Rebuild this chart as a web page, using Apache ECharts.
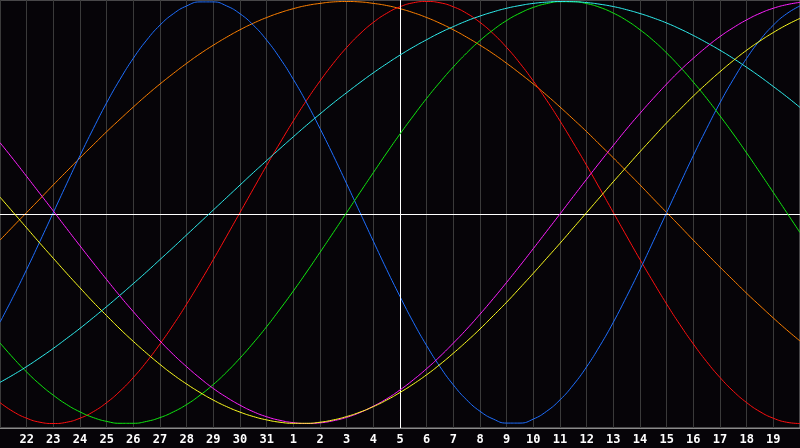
<!DOCTYPE html>
<html>
<head>
<meta charset="utf-8">
<script src="https://cdn.jsdelivr.net/npm/echarts@6/dist/echarts.min.js"></script>
<style>
html,body{margin:0;padding:0;background:#060408;}
#c{width:800px;height:448px;}
</style>
</head>
<body>
<div id="c"></div>
<script>
// Day labels (index 0 and 30 are the unlabeled edges); values sampled every half day
const days = ['21','22','23','24','25','26','27','28','29','30','31','1','2','3','4','5','6','7','8','9','10','11','12','13','14','15','16','17','18','19','20'];
const todayLabel = '5';

const blueVals = [-0.520,-0.398,-0.270,-0.136,0,0.136,0.270,0.398,0.520,0.631,0.731,0.817,0.888,0.942,0.979,0.998,0.998,0.979,0.942,0.888,0.817,0.731,0.631,0.520,0.398,0.270,0.136,0,-0.136,-0.270,-0.398,-0.520,-0.631,-0.731,-0.817,-0.888,-0.942,-0.979,-0.998,-0.998,-0.979,-0.942,-0.888,-0.817,-0.731,-0.631,-0.520,-0.398,-0.270,-0.136,0,0.136,0.270,0.398,0.520,0.631,0.731,0.817,0.888,0.942,0.979];
const orangeVals = [-0.131,-0.065,0,0.065,0.131,0.195,0.259,0.321,0.383,0.442,0.500,0.556,0.609,0.659,0.707,0.752,0.793,0.831,0.866,0.897,0.924,0.947,0.966,0.981,0.991,0.998,1.000,0.998,0.991,0.981,0.966,0.947,0.924,0.897,0.866,0.831,0.793,0.752,0.707,0.659,0.609,0.556,0.500,0.442,0.383,0.321,0.259,0.195,0.131,0.065,0,-0.065,-0.131,-0.195,-0.259,-0.321,-0.383,-0.442,-0.500,-0.556,-0.609];
const redVals = [-0.901,-0.944,-0.975,-0.994,-1,-0.994,-0.975,-0.944,-0.901,-0.847,-0.782,-0.707,-0.623,-0.532,-0.434,-0.330,-0.223,-0.112,0,0.112,0.223,0.330,0.434,0.532,0.623,0.707,0.782,0.847,0.901,0.944,0.975,0.994,1,0.994,0.975,0.944,0.901,0.847,0.782,0.707,0.623,0.532,0.434,0.330,0.223,0.112,0,-0.112,-0.223,-0.330,-0.434,-0.532,-0.623,-0.707,-0.782,-0.847,-0.901,-0.944,-0.975,-0.994,-1];
const cyanVals = [-0.805,-0.769,-0.730,-0.688,-0.644,-0.597,-0.549,-0.498,-0.446,-0.392,-0.337,-0.281,-0.223,-0.165,-0.106,-0.047,0.012,0.071,0.130,0.189,0.246,0.303,0.359,0.414,0.467,0.519,0.568,0.616,0.662,0.705,0.746,0.784,0.819,0.852,0.881,0.908,0.931,0.951,0.968,0.981,0.991,0.997,1.000,0.999,0.995,0.987,0.976,0.961,0.943,0.922,0.898,0.870,0.839,0.805,0.769,0.730,0.688,0.644,0.597,0.549,0.498];
const greenVals = [-0.618,-0.690,-0.756,-0.815,-0.866,-0.910,-0.945,-0.972,-0.990,-0.999,-0.999,-0.990,-0.972,-0.945,-0.910,-0.866,-0.815,-0.756,-0.690,-0.618,-0.541,-0.458,-0.372,-0.282,-0.189,-0.095,0,0.095,0.189,0.282,0.372,0.458,0.541,0.618,0.690,0.756,0.815,0.866,0.910,0.945,0.972,0.990,0.999,0.999,0.990,0.972,0.945,0.910,0.866,0.815,0.756,0.690,0.618,0.541,0.458,0.372,0.282,0.189,0.095,0,-0.095];
const magentaVals = [0.331,0.252,0.171,0.089,0.007,-0.076,-0.158,-0.239,-0.318,-0.396,-0.470,-0.541,-0.609,-0.673,-0.731,-0.785,-0.834,-0.876,-0.913,-0.944,-0.968,-0.985,-0.996,-1.000,-0.997,-0.987,-0.971,-0.948,-0.918,-0.883,-0.841,-0.793,-0.740,-0.682,-0.619,-0.553,-0.482,-0.408,-0.331,-0.252,-0.171,-0.089,-0.007,0.076,0.158,0.239,0.318,0.396,0.470,0.541,0.609,0.673,0.731,0.785,0.834,0.876,0.913,0.944,0.968,0.985,0.996];
const yellowVals = [0.073,0.000,-0.073,-0.146,-0.217,-0.288,-0.357,-0.425,-0.489,-0.552,-0.611,-0.667,-0.720,-0.769,-0.813,-0.853,-0.889,-0.920,-0.946,-0.967,-0.983,-0.994,-0.999,-0.999,-0.994,-0.983,-0.967,-0.946,-0.920,-0.889,-0.853,-0.813,-0.769,-0.720,-0.667,-0.611,-0.552,-0.489,-0.425,-0.357,-0.288,-0.217,-0.146,-0.073,0,0.073,0.146,0.217,0.288,0.357,0.425,0.489,0.552,0.611,0.667,0.720,0.769,0.813,0.853,0.889,0.920];

// Half-day category slots built from the day labels
const cats = [];
days.forEach((d, i) => { cats.push(d); if (i < days.length - 1) cats.push(d + '.5'); });

const chart = echarts.init(document.getElementById('c'), null, {renderer:'canvas'});

function line(name, data, color, z){
  return {
    name, type:'line', data, smooth:true, symbol:'none', z,
    lineStyle:{color, width:1}, silent:true, animation:false
  };
}

const option = {
  backgroundColor:'#060408',
  animation:false,
  grid:{left:0, right:0, top:0, bottom:20, show:true, borderColor:'#8a8a8a', borderWidth:1, backgroundColor:'transparent'},
  xAxis:{
    type:'category', data:cats, boundaryGap:false,
    axisLine:{show:true, onZero:false, lineStyle:{color:'#8a8a8a', width:1}},
    axisTick:{show:false},
    splitLine:{show:true, interval:1, lineStyle:{color:'#3a3a3a', width:1}},
    axisLabel:{
      color:'#ffffff', fontWeight:'bold', fontSize:12, fontFamily:'DejaVu Sans Mono', margin:6,
      showMinLabel:false, showMaxLabel:false, interval:1,
      formatter:function(v, i){ return (i===0||i===cats.length-1||i%2===1)?'':v; }
    }
  },
  yAxis:{
    type:'value', min:-1.0213, max:1.0071,
    axisLine:{show:false}, axisTick:{show:false}, axisLabel:{show:false}, splitLine:{show:false}
  },
  series:[
    line('orange', orangeVals, '#ff8000', 2),
    line('red', redVals, '#ff1010', 3),
    line('blue', blueVals, '#1f6fff', 4),
    line('green', greenVals, '#10e810', 5),
    line('cyan', cyanVals, '#30f0f0', 6),
    line('magenta', magentaVals, '#ff20ff', 7),
    line('yellow', yellowVals, '#ffff20', 8),
    {
      type:'line', data:[], silent:true, z:1,
      markLine:{
        symbol:'none', silent:true, animation:false, label:{show:false},
        lineStyle:{color:'#ffffff', type:'solid', width:1},
        data:[{yAxis:-0.007},{xAxis:todayLabel}]
      }
    }
  ]
};
chart.setOption(option);
</script>
</body>
</html>
